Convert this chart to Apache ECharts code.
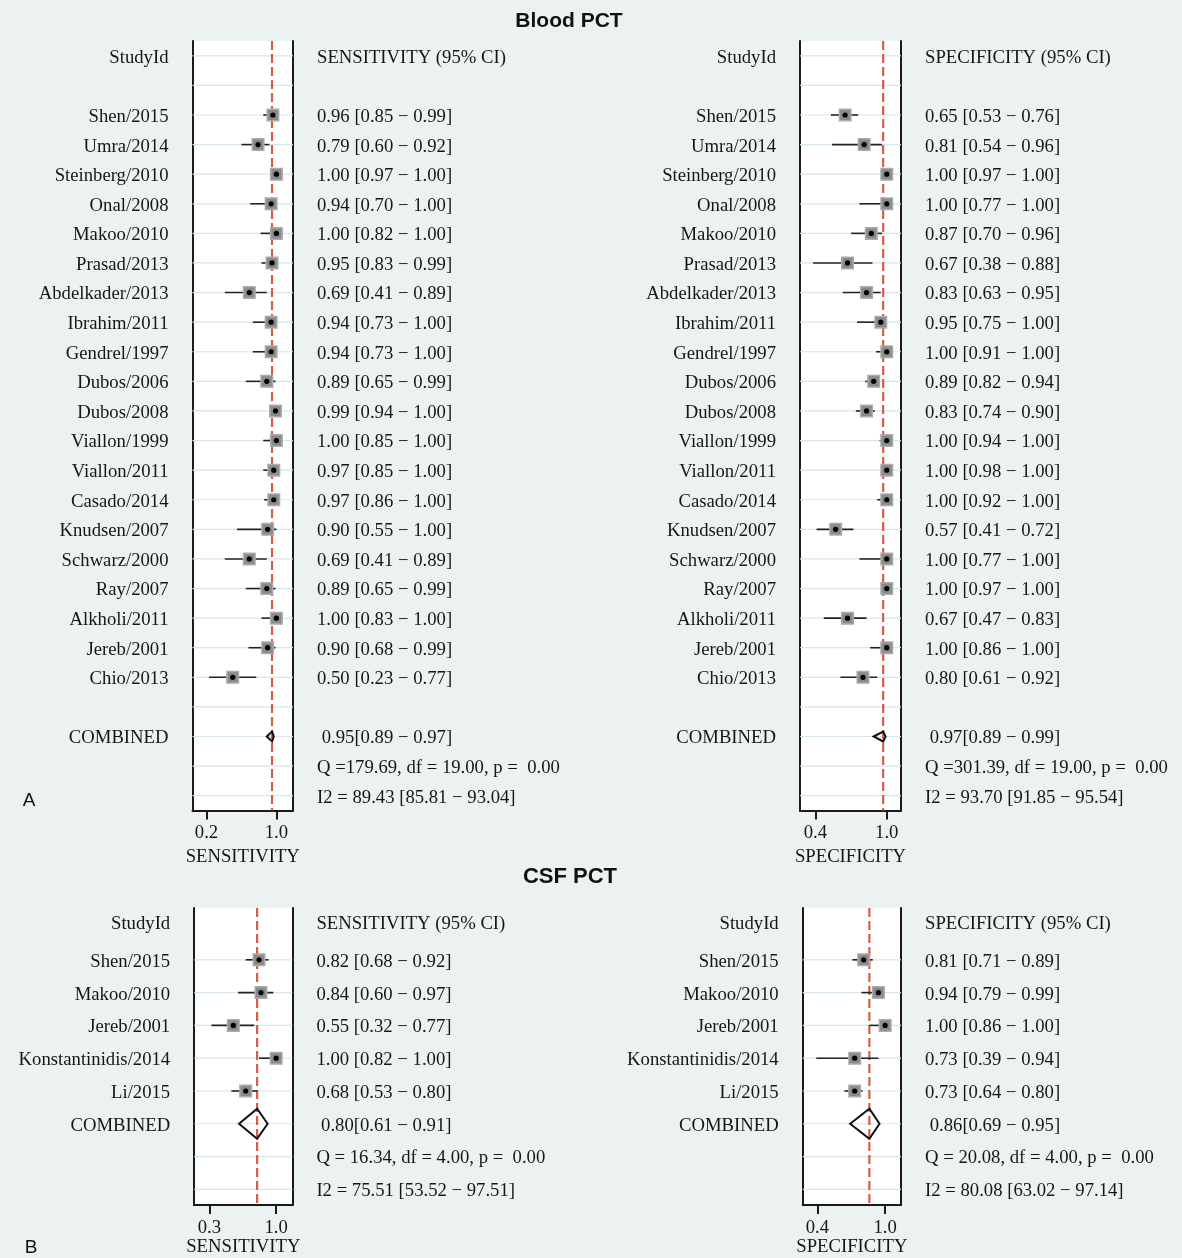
<!DOCTYPE html>
<html>
<head>
<meta charset="utf-8">
<script src="https://cdn.jsdelivr.net/npm/echarts@6/dist/echarts.min.js"></script>
<style>
  html, body { margin: 0; padding: 0; background: #ecf1f2; }
  #chart { width: 1182px; height: 1258px; }
</style>
</head>
<body>
<div id="chart"></div>
<script>
// ---- Blood PCT: 20 studies ----
const bloodStudies = ['Shen/2015', 'Umra/2014', 'Steinberg/2010', 'Onal/2008', 'Makoo/2010', 'Prasad/2013',
  'Abdelkader/2013', 'Ibrahim/2011', 'Gendrel/1997', 'Dubos/2006', 'Dubos/2008', 'Viallon/1999',
  'Viallon/2011', 'Casado/2014', 'Knudsen/2007', 'Schwarz/2000', 'Ray/2007', 'Alkholi/2011',
  'Jereb/2001', 'Chio/2013'];

const bloodSensEst = [0.96, 0.79, 1.00, 0.94, 1.00, 0.95, 0.69, 0.94, 0.94, 0.89, 0.99, 1.00, 0.97, 0.97, 0.90, 0.69, 0.89, 1.00, 0.90, 0.50];
const bloodSensLo  = [0.85, 0.60, 0.97, 0.70, 0.82, 0.83, 0.41, 0.73, 0.73, 0.65, 0.94, 0.85, 0.85, 0.86, 0.55, 0.41, 0.65, 0.83, 0.68, 0.23];
const bloodSensHi  = [0.99, 0.92, 1.00, 1.00, 1.00, 0.99, 0.89, 1.00, 1.00, 0.99, 1.00, 1.00, 1.00, 1.00, 1.00, 0.89, 0.99, 1.00, 0.99, 0.77];

const bloodSpecEst = [0.65, 0.81, 1.00, 1.00, 0.87, 0.67, 0.83, 0.95, 1.00, 0.89, 0.83, 1.00, 1.00, 1.00, 0.57, 1.00, 1.00, 0.67, 1.00, 0.80];
const bloodSpecLo  = [0.53, 0.54, 0.97, 0.77, 0.70, 0.38, 0.63, 0.75, 0.91, 0.82, 0.74, 0.94, 0.98, 0.92, 0.41, 0.77, 0.97, 0.47, 0.86, 0.61];
const bloodSpecHi  = [0.76, 0.96, 1.00, 1.00, 0.96, 0.88, 0.95, 1.00, 1.00, 0.94, 0.90, 1.00, 1.00, 1.00, 0.72, 1.00, 1.00, 0.83, 1.00, 0.92];

// pooled estimate [est, lo, hi]
const bloodSensPooled = [0.95, 0.89, 0.97];
const bloodSpecPooled = [0.97, 0.89, 0.99];
// heterogeneity [Q, df, p, I2, I2 lo, I2 hi]
const bloodSensHet = [179.69, 19.00, 0.00, 89.43, 85.81, 93.04];
const bloodSpecHet = [301.39, 19.00, 0.00, 93.70, 91.85, 95.54];

// ---- CSF PCT: 5 studies ----
const csfStudies = ['Shen/2015', 'Makoo/2010', 'Jereb/2001', 'Konstantinidis/2014', 'Li/2015'];

const csfSensEst = [0.82, 0.84, 0.55, 1.00, 0.68];
const csfSensLo  = [0.68, 0.60, 0.32, 0.82, 0.53];
const csfSensHi  = [0.92, 0.97, 0.77, 1.00, 0.80];

const csfSpecEst = [0.81, 0.94, 1.00, 0.73, 0.73];
const csfSpecLo  = [0.71, 0.79, 0.86, 0.39, 0.64];
const csfSpecHi  = [0.89, 0.99, 1.00, 0.94, 0.80];

const csfSensPooled = [0.80, 0.61, 0.91];
const csfSpecPooled = [0.86, 0.69, 0.95];
const csfSensHet = [16.34, 4.00, 0.00, 75.51, 53.52, 97.51];
const csfSpecHet = [20.08, 4.00, 0.00, 80.08, 63.02, 97.14];

// axis tick labels
const bloodSensTicks = [0.2, 1.0];
const bloodSpecTicks = [0.4, 1.0];
const csfSensTicks = [0.3, 1.0];
const csfSpecTicks = [0.4, 1.0];

// ---- drawing ----
const SERIF = '"Liberation Serif", "Times New Roman", serif';
const SANS = '"Liberation Sans", Arial, sans-serif';
const TXT = '#161616';
const FS = 18.7;

const f2 = v => v.toFixed(2);
const ciText = (e, l, h) => `${f2(e)} [${f2(l)} \u2212 ${f2(h)}]`;
const pooledText = p => ` ${f2(p[0])}[${f2(p[1])} \u2212 ${f2(p[2])}]`;
const qText = h => `Q =${f2(h[0]).padStart(6)}, df = ${f2(h[1])}, p = ${f2(h[2]).padStart(5)}`;
const i2Text = h => `I2 = ${f2(h[3])} [${f2(h[4])} \u2212 ${f2(h[5])}]`;

const grids = [], xAxes = [], yAxes = [], series = [];

function addPanel(p) {
  const gi = grids.length;
  const n = p.studies.length;
  const first = p.firstRow;
  const combRow = first + n - 1 + p.gapBeforePooled;
  const nRows = combRow + 3;
  const leftLabels = new Array(nRows).fill('');
  const rightLabels = new Array(nRows).fill('');
  leftLabels[0] = 'StudyId';
  rightLabels[0] = p.measure + ' (95% CI)';
  p.studies.forEach((s, i) => {
    leftLabels[first + i] = s;
    rightLabels[first + i] = ciText(p.est[i], p.lo[i], p.hi[i]);
  });
  leftLabels[combRow] = 'COMBINED';
  rightLabels[combRow] = pooledText(p.pooled);
  rightLabels[combRow + 1] = qText(p.het);
  rightLabels[combRow + 2] = i2Text(p.het);
  const rowIdx = leftLabels.map((_, i) => i);

  // header row text may sit a little higher than the body rows
  const headRich = { hd: { fontFamily: SERIF, fontSize: FS, color: TXT, padding: [0, 0, p.headLift, 0] } };
  const fmt = labels => v => {
    const r = Math.round(v);
    const t = labels[r] || '';
    return (r === 0 && p.headLift > 0) ? `{hd|${t}}` : t;
  };

  grids.push(Object.assign({ show: true, backgroundColor: '#ffffff', borderWidth: 0 }, p.box));

  xAxes.push({
    type: 'value', gridIndex: gi, min: p.xRange[0], max: p.xRange[1],
    axisLine: { show: true, onZero: false, lineStyle: { color: '#1a1a1a', width: 2 } },
    axisTick: { show: true, customValues: p.ticks, length: 9, lineStyle: { color: '#1a1a1a', width: 2 } },
    axisLabel: { customValues: p.ticks, formatter: v => v.toFixed(1), margin: 13,
      fontFamily: SERIF, fontSize: FS, color: TXT },
    splitLine: { show: false },
    name: p.measure, nameLocation: 'middle', nameGap: 32,
    nameTextStyle: { fontFamily: SERIF, fontSize: FS, color: TXT }
  });

  const yBase = {
    type: 'value', gridIndex: gi, inverse: true, min: p.yRange[0], max: p.yRange[1],
    axisLine: { show: true, onZero: false, lineStyle: { color: '#1a1a1a', width: 2 } },
    axisTick: { show: false }, splitLine: { show: false }
  };
  const yl = yAxes.length;
  yAxes.push(Object.assign({}, yBase, {
    position: 'left',
    axisLabel: { customValues: rowIdx, formatter: fmt(leftLabels), margin: 24, padding: [4, 0, 0, 0],
      fontFamily: SERIF, fontSize: FS, color: TXT, rich: headRich }
  }));
  yAxes.push(Object.assign({}, yBase, {
    position: 'right',
    axisLabel: { customValues: rowIdx, formatter: fmt(rightLabels), margin: 24, padding: [4, 0, 0, 0],
      fontFamily: SERIF, fontSize: FS, color: TXT, align: 'left', rich: headRich }
  }));

  // light row rules
  const ruleRows = rowIdx.filter(r => r >= p.ruleFrom);
  series.push({
    type: 'custom', xAxisIndex: gi, yAxisIndex: yl, z: 1, silent: true,
    encode: { x: 0, y: 1 },
    data: ruleRows.map(r => [p.xRange[0], r]),
    renderItem: (params, api) => {
      const r = api.value(1);
      const a = api.coord([p.xRange[0], r]);
      const b = api.coord([p.xRange[1], r]);
      return { type: 'line', shape: { x1: a[0], y1: a[1], x2: b[0], y2: b[1] },
        style: { stroke: '#d7e6ee', lineWidth: 1.2 } };
    }
  });

  // dashed reference line at the pooled estimate
  series.push({
    type: 'custom', xAxisIndex: gi, yAxisIndex: yl, z: 2, silent: true,
    encode: { x: 0, y: 1 },
    data: [[p.pooled[0], p.yRange[0]]],
    renderItem: (params, api) => {
      const e = api.value(0);
      const a = api.coord([e, p.yRange[0]]);
      const b = api.coord([e, p.yRange[1]]);
      return { type: 'line', shape: { x1: a[0], y1: a[1], x2: b[0], y2: b[1] },
        style: { stroke: '#d65c48', lineWidth: 2.2, lineDash: [9, 4] } };
    }
  });

  // study estimates with 95% CI
  series.push({
    type: 'custom', xAxisIndex: gi, yAxisIndex: yl, z: 3, silent: true,
    encode: { x: 0, y: 1 },
    data: p.studies.map((s, i) => [p.est[i], first + i, p.lo[i], p.hi[i]]),
    renderItem: (params, api) => {
      const row = api.value(1);
      const c = api.coord([api.value(0), row]);
      const l = api.coord([api.value(2), row]);
      const h = api.coord([api.value(3), row]);
      const s = 11.5;
      return { type: 'group', children: [
        { type: 'line', shape: { x1: l[0], y1: l[1], x2: h[0], y2: h[1] },
          style: { stroke: '#222', lineWidth: 1.6 } },
        { type: 'rect', shape: { x: c[0] - s / 2, y: c[1] - s / 2, width: s, height: s },
          style: { fill: '#8a8a8a', stroke: '#ababab', lineWidth: 1.5 } },
        { type: 'circle', shape: { cx: c[0], cy: c[1], r: 2.6 }, style: { fill: '#000' } }
      ] };
    }
  });

  // pooled diamond
  series.push({
    type: 'custom', xAxisIndex: gi, yAxisIndex: yl, z: 4, silent: true,
    encode: { x: 0, y: 1 },
    data: [[p.pooled[0], combRow, p.pooled[1], p.pooled[2]]],
    renderItem: (params, api) => {
      const row = api.value(1);
      const c = api.coord([api.value(0), row]);
      const l = api.coord([api.value(2), row]);
      const h = api.coord([api.value(3), row]);
      const hh = p.diamondHalf;
      return { type: 'polygon',
        shape: { points: [[l[0], c[1]], [c[0], c[1] - hh], [h[0], c[1]], [c[0], c[1] + hh]] },
        style: { fill: null, stroke: '#111', lineWidth: 2 } };
    }
  });
}

addPanel({
  studies: bloodStudies, est: bloodSensEst, lo: bloodSensLo, hi: bloodSensHi,
  pooled: bloodSensPooled, het: bloodSensHet, measure: 'SENSITIVITY', ticks: bloodSensTicks,
  firstRow: 2, gapBeforePooled: 2, ruleFrom: 0, diamondHalf: 5, headLift: 0,
  box: { left: 192.5, top: 41, width: 100.5, height: 769.5 },
  xRange: [0.04, 1.19], yRange: [-0.5, 25.5]
});
addPanel({
  studies: bloodStudies, est: bloodSpecEst, lo: bloodSpecLo, hi: bloodSpecHi,
  pooled: bloodSpecPooled, het: bloodSpecHet, measure: 'SPECIFICITY', ticks: bloodSpecTicks,
  firstRow: 2, gapBeforePooled: 2, ruleFrom: 0, diamondHalf: 5, headLift: 0,
  box: { left: 800, top: 41, width: 101, height: 769.5 },
  xRange: [0.27, 1.12], yRange: [-0.5, 25.5]
});
addPanel({
  studies: csfStudies, est: csfSensEst, lo: csfSensLo, hi: csfSensHi,
  pooled: csfSensPooled, het: csfSensHet, measure: 'SENSITIVITY', ticks: csfSensTicks,
  firstRow: 1, gapBeforePooled: 1, ruleFrom: 1, diamondHalf: 15, headLift: 10,
  box: { left: 194.2, top: 908, width: 98.2, height: 299 },
  xRange: [0.14, 1.17], yRange: [-0.58, 8.48]
});
addPanel({
  studies: csfStudies, est: csfSpecEst, lo: csfSpecLo, hi: csfSpecHi,
  pooled: csfSpecPooled, het: csfSpecHet, measure: 'SPECIFICITY', ticks: csfSpecTicks,
  firstRow: 1, gapBeforePooled: 1, ruleFrom: 1, diamondHalf: 15, headLift: 10,
  box: { left: 802.7, top: 908, width: 98.3, height: 299 },
  xRange: [0.27, 1.14], yRange: [-0.58, 8.48]
});

const chart = echarts.init(document.getElementById('chart'), null, { renderer: 'canvas' });
chart.setOption({
  backgroundColor: '#ecf1f2',
  animation: false,
  grid: grids,
  xAxis: xAxes,
  yAxis: yAxes,
  series: series,
  graphic: [
    { type: 'text', x: 569, y: 21, silent: true,
      style: { text: 'Blood PCT', font: `bold 21px ${SANS}`, fill: '#111', align: 'center', verticalAlign: 'middle' } },
    { type: 'text', x: 570, y: 877, silent: true,
      style: { text: 'CSF PCT', font: `bold 22px ${SANS}`, fill: '#111', align: 'center', verticalAlign: 'middle' } },
    { type: 'text', x: 29, y: 801, silent: true,
      style: { text: 'A', font: `19px ${SANS}`, fill: '#111', align: 'center', verticalAlign: 'middle' } },
    { type: 'text', x: 31, y: 1248, silent: true,
      style: { text: 'B', font: `19px ${SANS}`, fill: '#111', align: 'center', verticalAlign: 'middle' } }
  ]
});
</script>
</body>
</html>
